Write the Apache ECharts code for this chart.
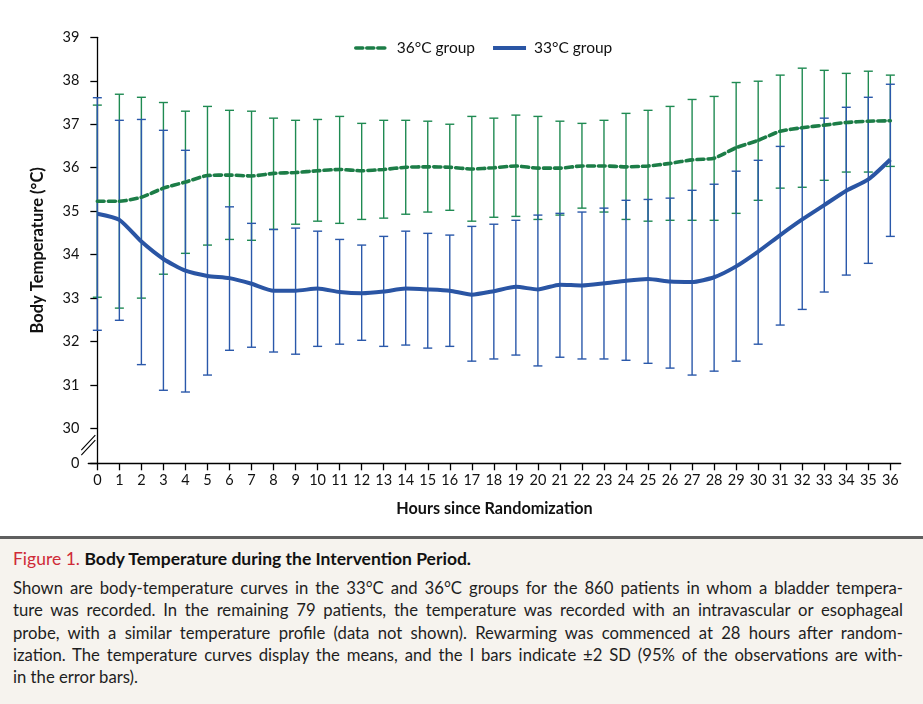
<!DOCTYPE html>
<html>
<head>
<meta charset="utf-8">
<script src="https://cdn.jsdelivr.net/npm/echarts@6/dist/echarts.min.js"></script>
<style>
  html, body { margin: 0; padding: 0; background: #ffffff; }
  body { width: 923px; height: 704px; position: relative; overflow: hidden; font-family: Lato, "Noto Sans", sans-serif; }
  #chart { position: absolute; left: 0; top: 0; width: 923px; height: 537px; }
  #rule { position: absolute; left: 0; top: 536px; width: 923px; height: 3px; background: #5f5f5f; }
  #caption { position: absolute; left: 0; top: 539px; width: 923px; height: 165px; background: #f6f3ee; }
  #caption .t { position: absolute; left: 13px; top: 9px; font-size: 17.5px; line-height: 22px; color: #111; white-space: nowrap; }
  #caption .t .fig { color: #cf2a37; }
  #caption .t b { font-weight: 700; }
  #caption .body { position: absolute; left: 13px; top: 38px; width: 890px; font-size: 16.7px; line-height: 22.3px; color: #1e1e1e; }
  #caption .body div { white-space: nowrap; text-align: justify; text-align-last: justify; }
  #caption .body div.last { text-align-last: left; }
</style>
</head>
<body>
<div id="chart"></div>
<div id="rule"></div>
<div id="caption">
  <div class="t"><span class="fig">Figure 1.</span> <b>Body Temperature during the Intervention Period.</b></div>
  <div class="body">
    <div>Shown are body-temperature curves in the 33°C and 36°C groups for the 860 patients in whom a bladder tempera-</div>
    <div>ture was recorded. In the remaining 79 patients, the temperature was recorded with an intravascular or esophageal</div>
    <div>probe, with a similar temperature profile (data not shown). Rewarming was commenced at 28 hours after random-</div>
    <div>ization. The temperature curves display the means, and the I bars indicate ±2 SD (95% of the observations are with-</div>
    <div class="last">in the error bars).</div>
  </div>
</div>
<script>
// ---- data ----
var hours = [0,1,2,3,4,5,6,7,8,9,10,11,12,13,14,15,16,17,18,19,20,21,22,23,24,25,26,27,28,29,30,31,32,33,34,35,36];
var yTickValues = [29.2,30,31,32,33,34,35,36,37,38,39];
var yTickLabels = ['0','30','31','32','33','34','35','36','37','38','39'];

var mean36 = [35.23,35.23,35.32,35.53,35.67,35.82,35.83,35.81,35.87,35.89,35.93,35.96,35.93,35.96,36.01,36.02,36.01,35.97,36.00,36.04,35.99,35.99,36.04,36.04,36.02,36.04,36.10,36.18,36.22,36.46,36.63,36.84,36.92,36.98,37.04,37.07,37.08];
var low36  = [33.02,32.77,33.00,33.55,34.03,34.22,34.35,34.33,34.58,34.70,34.77,34.72,34.81,34.84,34.93,34.98,35.02,34.77,34.86,34.88,34.81,34.91,35.07,34.98,34.81,34.77,34.79,34.79,34.79,34.95,35.25,35.53,35.55,35.71,35.90,35.90,36.03];
var high36 = [37.44,37.69,37.62,37.50,37.30,37.41,37.32,37.30,37.14,37.09,37.11,37.18,37.02,37.09,37.09,37.07,37.00,37.18,37.14,37.21,37.18,37.07,37.02,37.09,37.25,37.32,37.41,37.57,37.64,37.96,37.99,38.13,38.29,38.24,38.17,38.22,38.13];

var mean33 = [34.94,34.80,34.30,33.90,33.63,33.51,33.46,33.33,33.17,33.17,33.22,33.14,33.11,33.15,33.22,33.20,33.17,33.08,33.16,33.26,33.20,33.31,33.29,33.34,33.40,33.44,33.38,33.37,33.48,33.73,34.07,34.45,34.81,35.14,35.47,35.73,36.19];
var low33  = [32.26,32.49,31.47,30.88,30.84,31.23,31.80,31.87,31.76,31.71,31.89,31.94,32.03,31.89,31.92,31.85,31.89,31.55,31.60,31.69,31.44,31.64,31.60,31.60,31.57,31.50,31.39,31.23,31.32,31.55,31.94,32.38,32.74,33.14,33.53,33.80,34.42];
var high33 = [37.61,37.09,37.11,36.86,36.40,35.81,35.10,34.72,34.58,34.61,34.54,34.35,34.22,34.42,34.54,34.49,34.45,34.65,34.70,34.79,34.91,34.95,34.98,35.07,35.25,35.27,35.30,35.48,35.62,35.92,36.17,36.49,36.91,37.14,37.39,37.62,37.92];

var name36 = '36°C group';
var name33 = '33°C group';
var xTitle = 'Hours since Randomization';
var yTitle = 'Body Temperature (°C)';

// ---- build ----
var GREEN = '#1c7d47', GREEN_BAR = '#1f8a52', BLUE = '#2a55a4', BLUE_BAR = '#2a58aa';
var FONT = 'Lato, "Noto Sans", sans-serif';

function pairs(vals) { return hours.map(function (h, i) { return [h, vals[i]]; }); }
function triples(lo, hi) { return hours.map(function (h, i) { return [h, lo[i], hi[i]]; }); }

function errorRenderer(color) {
  return function (params, api) {
    var x = api.value(0), lo = api.value(1), hi = api.value(2);
    var pLo = api.coord([x, lo]), pHi = api.coord([x, hi]);
    var hw = 4.5;
    var st = { stroke: color, lineWidth: 1.4, fill: null };
    return {
      type: 'group',
      children: [
        { type: 'line', shape: { x1: pLo[0], y1: pLo[1], x2: pHi[0], y2: pHi[1] }, style: st },
        { type: 'line', shape: { x1: pLo[0] - hw, y1: pLo[1], x2: pLo[0] + hw, y2: pLo[1] }, style: st },
        { type: 'line', shape: { x1: pHi[0] - hw, y1: pHi[1], x2: pHi[0] + hw, y2: pHi[1] }, style: st }
      ]
    };
  };
}

var chart = echarts.init(document.getElementById('chart'), null, { renderer: 'canvas' });
var option = {
  animation: false,
  backgroundColor: '#ffffff',
  textStyle: { fontFamily: FONT },
  grid: { left: 88.3, right: 22.3, top: 37.3, bottom: 537 - 463.3 },
  legend: {
    top: 35, left: 349,
    itemWidth: 33, itemHeight: 14, itemGap: 16,
    data: [
      { name: name36, lineStyle: { color: GREEN, width: 3.6, type: [7, 4], cap: 'round' } },
      { name: name33, lineStyle: { color: BLUE, width: 4, type: 'solid' } }
    ],
    itemStyle: { opacity: 0, borderWidth: 0 },
    textStyle: { fontFamily: FONT, fontSize: 15.5, color: '#111', padding: [0, 0, 0, 3] }
  },
  xAxis: {
    type: 'value', min: -0.41, max: 36.47,
    splitLine: { show: false },
    axisLine: { lineStyle: { color: '#000', width: 1.3 } },
    axisTick: { show: true, length: 7, inside: false, lineStyle: { color: '#000', width: 1.3 }, customValues: hours },
    axisLabel: { customValues: hours, margin: 10, fontSize: 14.5, color: '#111', fontFamily: FONT },
    name: xTitle, nameLocation: 'middle', nameGap: 37,
    nameTextStyle: { fontFamily: FONT, fontWeight: 'bold', fontSize: 16.2, color: '#111' }
  },
  yAxis: {
    type: 'value', min: 29.2, max: 39,
    splitLine: { show: false },
    axisLine: { show: true, lineStyle: { color: '#000', width: 1.3 } },
    axisTick: { show: true, length: 7, lineStyle: { color: '#000', width: 1.3 }, customValues: yTickValues },
    axisLabel: {
      customValues: yTickValues, margin: 9, fontSize: 14.5, color: '#111', fontFamily: FONT,
      formatter: function (v) {
        var best = 0, d = 1e9;
        yTickValues.forEach(function (t, i) { var dd = Math.abs(t - v); if (dd < d) { d = dd; best = i; } });
        return yTickLabels[best];
      }
    },
    name: yTitle, nameLocation: 'middle', nameGap: 42,
    nameTextStyle: { fontFamily: FONT, fontWeight: 'bold', fontSize: 16.5, color: '#111' }
  },
  series: [
    {
      name: 'err36', type: 'custom', z: 1, silent: true,
      renderItem: errorRenderer(GREEN_BAR), data: triples(low36, high36), encode: { x: 0, y: [1, 2] }
    },
    {
      name: 'err33', type: 'custom', z: 2, silent: true,
      renderItem: errorRenderer(BLUE_BAR), data: triples(low33, high33), encode: { x: 0, y: [1, 2] }
    },
    {
      name: name36, type: 'line', z: 3, showSymbol: false, symbol: 'none', smooth: 0.2,
      data: pairs(mean36), color: GREEN,
      lineStyle: { color: GREEN, width: 3.6, type: [7, 4], cap: 'round' }
    },
    {
      name: name33, type: 'line', z: 4, showSymbol: false, symbol: 'none', smooth: 0.2,
      data: pairs(mean33), color: BLUE,
      lineStyle: { color: BLUE, width: 4 }
    }
  ]
};
chart.setOption(option);

// axis break mark between 0 and 30
var pA = chart.convertToPixel({ gridIndex: 0 }, [-0.41, 29.64]);
var ax = pA[0], ay = pA[1];
chart.setOption({
  graphic: [
    { type: 'polygon', z: 100, shape: { points: [[ax - 7, ay + 6], [ax + 7, ay - 9], [ax + 7, ay - 4], [ax - 7, ay + 11]] }, style: { fill: '#ffffff' } },
    { type: 'line', z: 101, shape: { x1: ax - 7, y1: ay + 6, x2: ax + 7, y2: ay - 9 }, style: { stroke: '#000', lineWidth: 1.1 } },
    { type: 'line', z: 101, shape: { x1: ax - 7, y1: ay + 11, x2: ax + 7, y2: ay - 4 }, style: { stroke: '#000', lineWidth: 1.1 } }
  ]
});
</script>
</body>
</html>
